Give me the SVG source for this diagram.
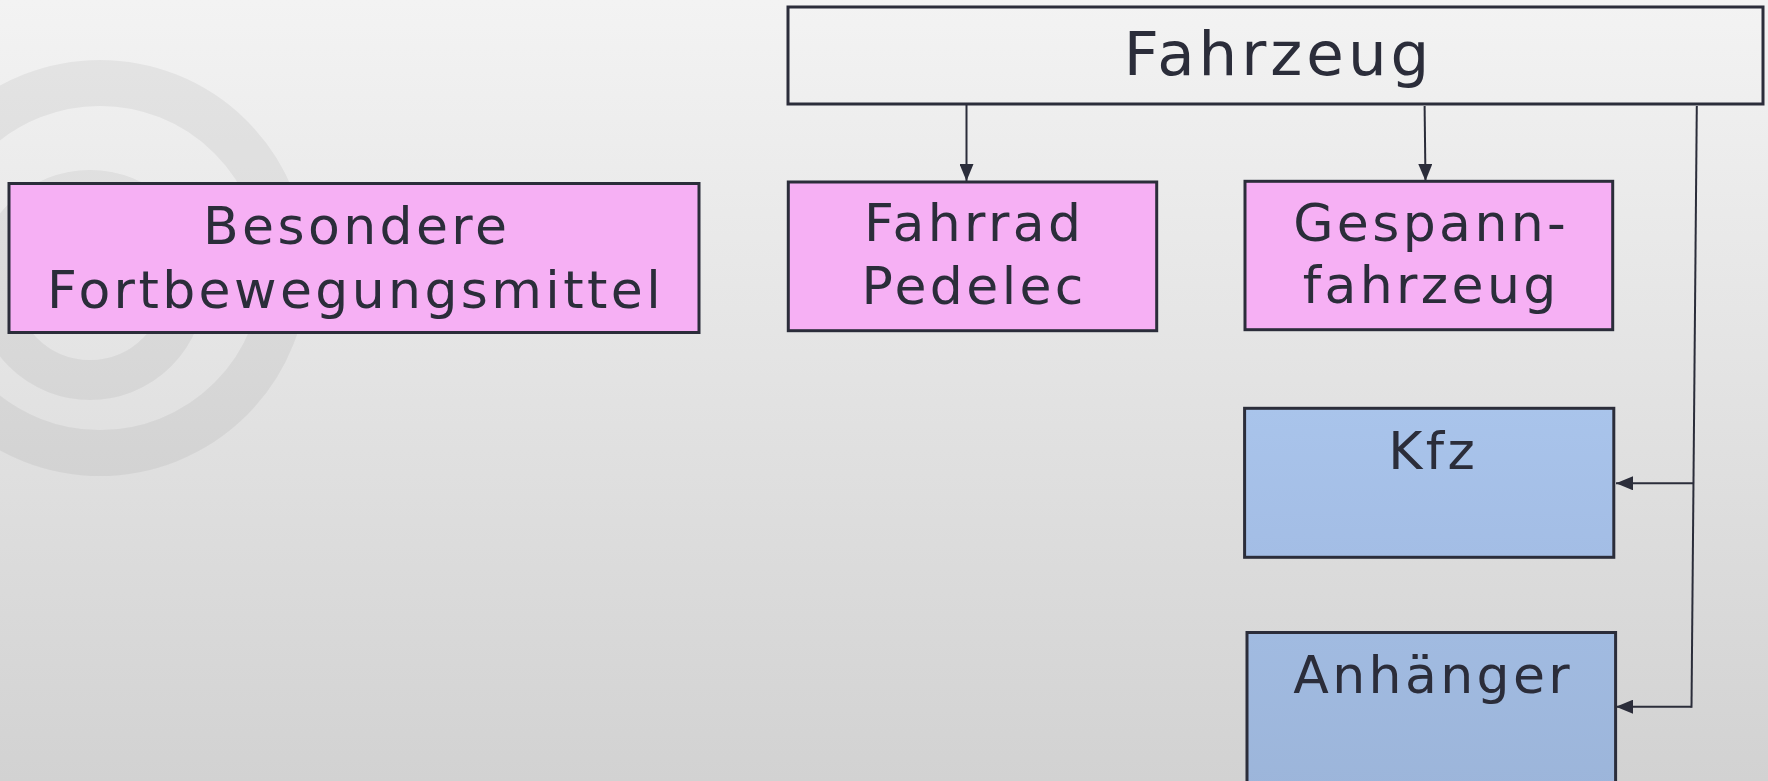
<svg xmlns="http://www.w3.org/2000/svg" width="1768" height="781" viewBox="0 0 1768 781">
<defs>
<linearGradient id="bg" x1="0" y1="0" x2="0" y2="1">
<stop offset="0" stop-color="#f3f3f3"/>
<stop offset="1" stop-color="#d2d2d2"/>
</linearGradient>
<linearGradient id="blue1" x1="0" y1="0" x2="0" y2="1">
<stop offset="0" stop-color="#a9c4eb"/>
<stop offset="1" stop-color="#a3bde5"/>
</linearGradient>
<linearGradient id="blue2" x1="0" y1="0" x2="0" y2="1">
<stop offset="0" stop-color="#a1bbe1"/>
<stop offset="1" stop-color="#9cb5da"/>
</linearGradient>
<marker id="arr" markerUnits="userSpaceOnUse" markerWidth="17" markerHeight="14" refX="17" refY="7" orient="auto">
<path d="M0,0 L17,7 L0,14 z" fill="#2b2d3a"/>
</marker>
</defs>
<style>
.box{stroke:#2b2d3a;stroke-width:3}
.pink{fill:#f6b0f4}
.t{font-family:"DejaVu Sans",sans-serif;fill:#2b2d3a;text-anchor:middle;letter-spacing:3.4px}
.t52{font-size:52px}
.t61{font-size:61px;letter-spacing:4px}
.con{stroke:#2b2d3a;stroke-width:2;fill:none}
.wm{fill:none;stroke:#000;stroke-opacity:0.05}
</style>
<rect x="0" y="0" width="1768" height="781" fill="url(#bg)"/>
<g id="watermark">
<circle class="wm" cx="100" cy="268" r="185" stroke-width="46"/>
<circle class="wm" cx="90" cy="285" r="95" stroke-width="40"/>
</g>
<g id="connectors">
<line class="con" x1="966.5" y1="104" x2="966.5" y2="181" marker-end="url(#arr)"/>
<line class="con" x1="1424.6" y1="106" x2="1425.5" y2="181" marker-end="url(#arr)"/>
<line class="con" x1="1696.8" y1="106" x2="1691.5" y2="707.7"/>
<line class="con" x1="1693.6" y1="483.3" x2="1616" y2="483.3" marker-end="url(#arr)"/>
<line class="con" x1="1691.5" y1="706.7" x2="1616" y2="706.7" marker-end="url(#arr)"/>
</g>
<g id="fahrzeug">
<rect class="box" x="788" y="7" width="975" height="97" fill="none"/>
<text class="t t61" x="1278.5" y="75">Fahrzeug</text>
</g>
<g id="besondere">
<rect class="box pink" x="9" y="183.5" width="690" height="149"/>
<text class="t t52" x="356.7" y="244.3">Besondere</text>
<text class="t t52" x="355.5" y="307.7">Fortbewegungsmittel</text>
</g>
<g id="fahrrad">
<rect class="box pink" x="788.3" y="182" width="368.4" height="148.7"/>
<text class="t t52" x="974.2" y="240.7">Fahrrad</text>
<text class="t t52" x="974.2" y="304">Pedelec</text>
</g>
<g id="gespann">
<rect class="box pink" x="1245" y="181.3" width="367.7" height="148.4"/>
<text class="t t52" x="1431.2" y="241.3">Gespann-</text>
<text class="t t52" x="1431.2" y="303">fahrzeug</text>
</g>
<g id="kfz">
<rect class="box" x="1244.6" y="408.3" width="369.2" height="149" fill="url(#blue1)"/>
<text class="t t52" x="1433.2" y="468.5">Kfz</text>
</g>
<g id="anhaenger">
<rect class="box" x="1247" y="632.5" width="368.6" height="160" fill="url(#blue2)"/>
<text class="t t52" x="1433.2" y="693.3">Anhänger</text>
</g>
</svg>
